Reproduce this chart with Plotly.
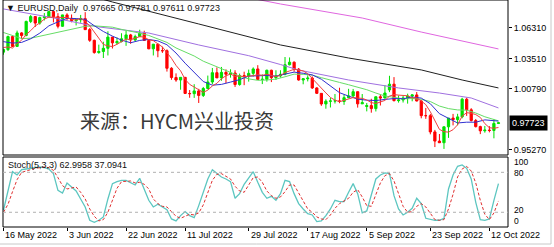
import plotly.graph_objects as go

# ---------------- data ----------------
bar_idx = list(range(110))
opens = [1.0412,1.0435,1.0553,1.0464,1.0586,1.0562,1.0690,1.0734,1.0675,1.0725,
         1.0732,1.0779,1.0733,1.0646,1.0749,1.0718,1.0697,1.0705,1.0715,1.0616,
         1.0519,1.0408,1.0418,1.0447,1.0548,1.0496,1.0508,1.0533,1.0568,1.0522,
         1.0553,1.0584,1.0518,1.0442,1.0484,1.0425,1.0425,1.0266,1.0182,1.0160,
         1.0184,1.0038,1.0036,1.0061,1.0020,1.0083,1.0142,1.0226,1.0179,1.0229,
         1.0212,1.0223,1.0119,1.0199,1.0197,1.0220,1.0260,1.0165,1.0166,1.0248,
         1.0181,1.0196,1.0212,1.0298,1.0321,1.0258,1.0160,1.0171,1.0177,1.0088,
         1.0039,0.9943,0.9968,0.9970,0.9971,0.9965,1.0000,1.0016,1.0054,0.9944,
         0.9920,0.9928,0.9901,1.0008,0.9997,1.0070,1.0122,0.9973,0.9979,0.9998,
         1.0015,1.0025,0.9970,0.9837,0.9837,0.9690,0.9607,0.9592,0.9736,0.9815,
         0.9801,0.9826,0.9986,0.9890,0.9793,0.9738,0.9700,0.9706,0.9703,0.97665]
highs = [1.0444,1.0562,1.0565,1.0607,1.0593,1.0697,1.0748,1.0739,1.0733,1.0766,
         1.0787,1.0786,1.0765,1.0750,1.0764,1.0753,1.0708,1.0749,1.0774,1.0630,
         1.0525,1.0480,1.0506,1.0601,1.0550,1.0545,1.0583,1.0605,1.0577,1.0570,
         1.0615,1.0606,1.0527,1.0486,1.0486,1.0462,1.0437,1.0276,1.0220,1.0187,
         1.0186,1.0069,1.0122,1.0080,1.0097,1.0200,1.0269,1.0274,1.0278,1.0256,
         1.0257,1.0248,1.0218,1.0235,1.0254,1.0274,1.0294,1.0211,1.0254,1.0253,
         1.0248,1.0248,1.0368,1.0364,1.0328,1.0268,1.0176,1.0202,1.0192,1.0095,
         1.0041,0.9985,0.9999,1.0033,1.0090,1.0028,1.0080,1.0079,1.0055,1.0033,
         0.9952,0.9990,1.0011,1.0030,1.0113,1.0198,1.0186,1.0020,1.0017,1.0036,
         1.0028,1.0051,0.9976,0.9907,0.9852,0.9708,0.9671,0.9740,0.9815,0.9853,
         0.9854,0.9999,0.9999,0.9905,0.9807,0.9746,0.9744,0.9742,0.9807,0.97781]
lows = [1.0389,1.0422,1.0460,1.0461,1.0532,1.0556,1.0675,1.0640,1.0661,1.0699,
        1.0732,1.0681,1.0627,1.0642,1.0700,1.0682,1.0654,1.0678,1.0612,1.0505,
        1.0398,1.0398,1.0359,1.0382,1.0445,1.0482,1.0500,1.0469,1.0488,1.0511,
        1.0551,1.0517,1.0439,1.0382,1.0366,1.0405,1.0236,1.0162,1.0144,1.0072,
        1.0033,0.9999,0.9998,0.9952,1.0006,1.0075,1.0121,1.0180,1.0153,1.0131,
        1.0181,1.0097,1.0108,1.0113,1.0145,1.0192,1.0162,1.0123,1.0145,1.0141,
        1.0160,1.0181,1.0202,1.0292,1.0235,1.0154,1.0121,1.0147,1.0079,1.0033,
        0.9926,0.9900,0.9911,0.9947,0.9950,0.9935,0.9995,1.0001,0.9910,0.9943,
        0.9876,0.9864,0.9875,0.9929,0.9993,1.0050,0.9966,0.9955,0.9956,0.9946,
        0.9967,0.9966,0.9813,0.9808,0.9668,0.9553,0.9592,0.9536,0.9636,0.9749,
        0.9750,0.9813,0.9835,0.9784,0.9730,0.9670,0.9683,0.9686,0.9632,0.97611]
closes = [1.0435,1.0553,1.0464,1.0586,1.0562,1.0690,1.0734,1.0675,1.0725,1.0732,
          1.0779,1.0733,1.0646,1.0749,1.0718,1.0697,1.0705,1.0715,1.0616,1.0519,
          1.0408,1.0418,1.0447,1.0548,1.0496,1.0508,1.0533,1.0568,1.0522,1.0553,
          1.0584,1.0518,1.0442,1.0484,1.0425,1.0425,1.0266,1.0182,1.0160,1.0184,
          1.0038,1.0036,1.0061,1.0020,1.0083,1.0142,1.0226,1.0179,1.0229,1.0212,
          1.0223,1.0119,1.0199,1.0197,1.0220,1.0260,1.0165,1.0166,1.0248,1.0181,
          1.0196,1.0212,1.0298,1.0321,1.0258,1.0160,1.0171,1.0177,1.0088,1.0039,
          0.9943,0.9968,0.9970,0.9971,0.9965,1.0000,1.0016,1.0054,0.9944,0.9955,
          0.9928,0.9901,1.0008,0.9997,1.0042,1.0122,0.9973,0.9979,0.9998,1.0015,
          1.0025,0.9970,0.9837,0.9837,0.9690,0.9607,0.9592,0.9736,0.9815,0.9801,
          0.9826,0.9986,0.9890,0.9793,0.9738,0.9700,0.9706,0.9703,0.9767,0.97723]

ma5 = [1.0454,1.0459,1.0449,1.0490,1.0520,1.0571,1.0607,1.0649,1.0677,1.0711,
       1.0729,1.0729,1.0723,1.0728,1.0725,1.0709,1.0703,1.0717,1.0690,1.0650,
       1.0593,1.0535,1.0482,1.0468,1.0463,1.0483,1.0506,1.0531,1.0525,1.0537,
       1.0552,1.0549,1.0524,1.0516,1.0491,1.0459,1.0408,1.0356,1.0292,1.0243,
       1.0166,1.0120,1.0096,1.0068,1.0048,1.0068,1.0106,1.0130,1.0172,1.0198,
       1.0214,1.0192,1.0196,1.0190,1.0192,1.0199,1.0208,1.0202,1.0212,1.0204,
       1.0191,1.0201,1.0227,1.0242,1.0257,1.0250,1.0242,1.0217,1.0171,1.0127,
       1.0084,1.0043,1.0002,0.9978,0.9963,0.9975,0.9984,1.0001,0.9996,0.9994,
       0.9979,0.9956,0.9947,0.9958,0.9975,1.0014,1.0028,1.0023,1.0023,1.0017,
       0.9998,0.9997,0.9969,0.9937,0.9872,0.9788,0.9713,0.9692,0.9688,0.9710,
       0.9754,0.9833,0.9864,0.9859,0.9847,0.9821,0.9765,0.9728,0.9723,0.9730]

ma_idx2 = [0,2,4,6,8,10,12,14,16,18,20,22,24,26,28,30,32,34,36,38,40,42,44,46,48,50,
           52,54,56,58,60,62,64,66,68,70,72,74,76,78,80,82,84,86,88,90,92,94,96,98,100,
           102,104,106,108,109]
ma10 = [1.0507,1.0494,1.0500,1.0533,1.0584,1.0650,1.0686,1.0718,1.0716,1.0709,1.0651,
        1.0599,1.0557,1.0521,1.0497,1.0518,1.0527,1.0514,1.0479,1.0404,1.0312,1.0226,
        1.0146,1.0113,1.0120,1.0141,1.0163,1.0195,1.0200,1.0201,1.0195,1.0214,1.0231,
        1.0221,1.0206,1.0167,1.0110,1.0045,1.0014,0.9987,0.9977,0.9974,0.9984,0.9992,
        0.9990,1.0006,0.9996,0.9945,0.9855,0.9812,0.9771,0.9778,0.9778,0.9799,0.9791,0.9788]
ma20 = [1.0590,1.0559,1.0535,1.0538,1.0555,1.0578,1.0590,1.0609,1.0625,1.0646,1.0650,
        1.0643,1.0638,1.0618,1.0603,1.0584,1.0563,1.0535,1.0500,1.0450,1.0415,1.0377,
        1.0330,1.0296,1.0262,1.0227,1.0195,1.0170,1.0157,1.0160,1.0168,1.0189,1.0213,
        1.0211,1.0204,1.0181,1.0162,1.0138,1.0117,1.0097,1.0072,1.0042,1.0015,1.0003,
        0.9989,0.9992,0.9985,0.9965,0.9924,0.9901,0.9889,0.9887,0.9861,0.9827,0.9802,0.9790]

ma50_idx = [0,10,21,32,43,54,61,65,76,87,96,103,109]
ma50 = [1.0803,1.0730,1.0640,1.0585,1.0477,1.0380,1.0300,1.0250,1.0160,1.0088,1.0042,0.9997,0.9907]
ma100_idx = [13,24,43,61,76,92,101,109]
ma100 = [1.0993,1.0866,1.0667,1.0477,1.0359,1.0251,1.0160,1.0088]
ma200_idx = [32,43,57,61,79,92,109]
ma200 = [1.1083,1.0993,1.0884,1.0848,1.0721,1.0594,1.0441]

stoch_k = [23,50,81,76,84,85,86,88,88,87,85,78,53,49,64,58,52,40,28,8,
           5,8,13,40,63,66,68,68,64,61,71,55,38,28,32,28,24,10,7,15,
           21,15,12,30,50,70,84,78,73,70,66,41,48,62,72,81,65,50,41,44,
           38,48,68,66,48,33,25,18,16,6,7,15,25,38,36,36,50,63,48,19,
           22,45,70,76,79,78,45,25,16,20,26,41,33,11,9,8,8,11,55,76,
           89,91,86,70,35,9,8,10,38,63]
stoch_d = [20,32,51,69,80,82,85,86,87,88,87,83,72,60,55,57,58,50,40,25,
           14,7,9,20,39,56,66,67,67,64,65,62,55,40,33,29,28,21,14,11,
           14,17,16,19,31,50,68,77,78,74,70,59,52,50,61,72,73,65,52,45,
           41,43,51,61,61,49,35,25,20,13,10,9,16,26,33,37,41,50,54,43,
           30,29,46,64,75,78,67,49,29,20,21,29,33,28,18,9,8,9,25,47,
           73,85,89,82,64,38,17,9,19,37]

price_ticks = [0.95270, 1.00790, 1.03510, 1.06310]
stoch_labels = ["100", "80", "20", "0"]
date_tick_idx = [0, 14, 27, 40, 54, 67, 80, 94, 107]
date_tick_text = ["16 May 2022", "3 Jun 2022", "22 Jun 2022", "11 Jul 2022", "29 Jul 2022",
                  "17 Aug 2022", "5 Sep 2022", "23 Sep 2022", "12 Oct 2022"]
last_price = 0.97723
header_text = "▼ EURUSD,Daily  0.97665 0.97781 0.97611 0.97723"
stoch_text = "Stoch(5,3,3) 62.9958 37.0941"
watermark = "来源：HYCM兴业投资"

# ---------------- figure ----------------
W, H = 554, 247
ML, MR, MT, MB = 3, 46, 0, 20
PH = H - MT - MB
main_dom = [1 - 155 / PH, 1]
sto_dom = [0, (PH - 157) / PH]
XR = [-0.1, 111.1]
FONT = "Liberation Sans, Arial, sans-serif"

fig = go.Figure()
fig.add_trace(go.Candlestick(
    x=bar_idx, open=opens, high=highs, low=lows, close=closes,
    xaxis="x", yaxis="y",
    increasing=dict(line=dict(color="#00E000", width=1), fillcolor="#00E000"),
    decreasing=dict(line=dict(color="#FF0000", width=1), fillcolor="#FF0000"),
    whiskerwidth=0, hoverinfo="skip", showlegend=False))

def line(x, y, color, width=1, dash=None, xa="x", ya="y"):
    fig.add_trace(go.Scatter(x=x, y=y, mode="lines", xaxis=xa, yaxis=ya,
                             line=dict(color=color, width=width, dash=dash),
                             hoverinfo="skip", showlegend=False))

line(ma200_idx, ma200, "#E066E0")
line(ma100_idx, ma100, "#202020")
line(ma50_idx, ma50, "#A070E0")
line(ma_idx2, ma20, "#66DD66")
line(ma_idx2, ma10, "#3030D0")
line(bar_idx, ma5, "#F04040")

line(bar_idx, stoch_k, "#5CC6C0", width=1.3, xa="x2", ya="y2")
line(bar_idx, stoch_d, "#E03030", width=1, dash="3px,2px", xa="x2", ya="y2")

fig.update_layout(
    width=W, height=H, margin=dict(l=ML, r=MR, t=MT, b=MB),
    paper_bgcolor="white", plot_bgcolor="white", showlegend=False,
    font=dict(family=FONT, size=9, color="black"),
    xaxis=dict(domain=[0, 1], range=XR, anchor="y", showticklabels=False, ticks="",
               showgrid=False, zeroline=False, rangeslider=dict(visible=False)),
    yaxis=dict(domain=main_dom, range=[0.9481, 1.0884], side="right", anchor="x",
               tickvals=price_ticks, ticktext=[f"{v:.5f}" for v in price_ticks],
               ticks="outside", ticklen=3, tickcolor="black", showgrid=False, zeroline=False,
               tickfont=dict(size=9, family=FONT, color="black")),
    xaxis2=dict(domain=[0, 1], range=XR, anchor="y2", tickvals=date_tick_idx,
                showticklabels=False, ticks="outside", ticklen=3, tickcolor="black",
                showgrid=False, zeroline=False),
    yaxis2=dict(domain=sto_dom, range=[-2.1, 103], side="right", anchor="x2",
                showticklabels=False, ticks="", showgrid=False, zeroline=False),
)

shapes = [
    dict(type="rect", xref="paper", yref="paper", x0=0, x1=1, y0=main_dom[0], y1=main_dom[1],
         line=dict(color="black", width=1)),
    dict(type="rect", xref="paper", yref="paper", x0=0, x1=1, y0=sto_dom[0], y1=sto_dom[1],
         line=dict(color="black", width=1)),
    dict(type="line", xref="x2 domain", yref="y2", x0=0, x1=1, y0=80, y1=80,
         line=dict(color="#B0B0B0", width=1, dash="3px,3px")),
    dict(type="line", xref="x2 domain", yref="y2", x0=0, x1=1, y0=20, y1=20,
         line=dict(color="#B0B0B0", width=1, dash="3px,3px")),
    dict(type="line", xref="paper", yref="paper", x0=(551 - ML) / 505, x1=(551 - ML) / 505,
         y0=1, y1=1 - (244 - MT) / PH, line=dict(color="#C8C8C8", width=1)),
    dict(type="line", xref="paper", yref="paper", x0=-ML / 505, x1=(551 - ML) / 505,
         y0=1 - (244 - MT) / PH, y1=1 - (244 - MT) / PH, line=dict(color="#C8C8C8", width=1)),
]
fig.update_layout(shapes=shapes)

ann = []
ann.append(dict(text=header_text, xref="paper", yref="paper", x=(4 - ML) / 505, y=1,
                xanchor="left", yanchor="top", yshift=-1, showarrow=False,
                font=dict(size=9, family=FONT, color="#101010")))
ann.append(dict(text=stoch_text, xref="paper", yref="paper", x=(6 - ML) / 505,
                y=1 - 165 / PH, xanchor="left", yanchor="middle", showarrow=False,
                font=dict(size=9, family=FONT, color="#101010")))
ann.append(dict(text=watermark, xref="paper", yref="paper", x=(177 - ML) / 505,
                y=1 - 120 / PH, xanchor="center", yanchor="middle", showarrow=False,
                font=dict(size=20, family="Noto Sans CJK SC", color="#3a3a3a")))
ann.append(dict(text=f"{last_price:.5f}", xref="paper", yref="y", x=1, y=last_price,
                xanchor="left", yanchor="middle", xshift=1, showarrow=False,
                bgcolor="black", borderpad=2,
                font=dict(size=9, family=FONT, color="white")))
for lab, ypx in zip(stoch_labels, [161.5, 173, 210, 221]):
    ann.append(dict(text=lab, xref="paper", yref="paper", x=1, y=1 - ypx / PH,
                    xanchor="left", yanchor="middle", xshift=4, showarrow=False,
                    font=dict(size=8.5, family=FONT, color="black")))
for xi, lab in zip(date_tick_idx, date_tick_text):
    ann.append(dict(text=lab, xref="x2", yref="paper", x=xi, y=0, xanchor="left",
                    yanchor="top", yshift=-1, xshift=0, showarrow=False,
                    font=dict(size=9, family=FONT, color="black")))
fig.update_layout(annotations=ann)

fig.write_html("out.html")
